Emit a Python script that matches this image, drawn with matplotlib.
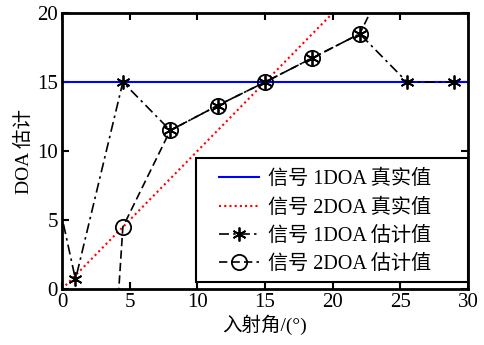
import matplotlib
matplotlib.use("Agg")
import matplotlib.pyplot as plt
from matplotlib.patches import Rectangle
import numpy as np

plt.rcParams['font.family'] = ['Liberation Serif', 'Noto Sans CJK SC']
plt.rcParams['mathtext.fontset'] = 'stix'

# data
angle_true = [0, 30]
sig1_true = [15, 15]
sig2_true_x = [0, 30]
sig2_true_y = [0, 30]

angle_est = [-2.5, 1, 4.5, 8, 11.5, 15, 18.5, 22, 25.5, 29]
sig1_est = [16.5, 0.7, 15, 11.5, 13.3, 15, 16.75, 18.5, 15, 15]
sig2_est_x = [1, 4.5, 8, 11.5, 15, 18.5, 22, 25.5, 29]
sig2_est = [-48, 4.5, 11.5, 13.3, 15, 16.75, 18.5, 25.5, 29]

labels = ['信号 1DOA 真实值', '信号 2DOA 真实值', '信号 1DOA 估计值', '信号 2DOA 估计值']
xticks = [0, 5, 10, 15, 20, 25, 30]
yticks = [0, 5, 10, 15, 20]

fig = plt.figure(figsize=(4.84, 3.45), dpi=100)
ax = fig.add_axes([0.128, 0.162, 0.839, 0.800])

ax.plot(angle_true, sig1_true, color='#0000ff', lw=1.5, label=labels[0])
ax.plot(sig2_true_x, sig2_true_y, color='#ff0000', lw=1.5, ls=(0, (1, 1.5)), label=labels[1])
ax.plot(angle_est, sig1_est, color='black', lw=1.2, ls=(0, (6, 2.5, 1.5, 2.5)),
        marker=(6, 2, 0), ms=10, mew=1.3, label=labels[2])
ax.plot(sig2_est_x, sig2_est, color='black', lw=1.2, ls=(0, (5, 2.5)),
        marker='o', ms=11, mfc='none', mew=1.3, label=labels[3])

ax.set_xlim(0, 30)
ax.set_ylim(0, 20)
ax.set_xticks(xticks)
ax.set_yticks(yticks)
ax.tick_params(direction='in', top=True, right=True, labelsize=15, length=5, width=1.5, pad=3)
for s in ax.spines.values():
    s.set_linewidth(2)

ax.set_xlabel('入射角/(°)', fontsize=14, labelpad=2)
ax.set_ylabel('DOA 估计', fontsize=14, labelpad=3)

# legend frame (MATLAB-style wide box)
box = Rectangle((0.330, 0.025), 0.670, 0.450, transform=ax.transAxes,
                facecolor='white', edgecolor='black', lw=1.5, zorder=4.5, clip_on=False)
ax.add_patch(box)
leg = ax.legend(loc='center left', fontsize=14.5, frameon=False,
                borderaxespad=0, borderpad=0, bbox_to_anchor=(0.387, 0.243),
                handlelength=2.0, handletextpad=0.45, labelspacing=0.45)
leg.set_zorder(5)

fig.savefig('out.png', dpi=100)
